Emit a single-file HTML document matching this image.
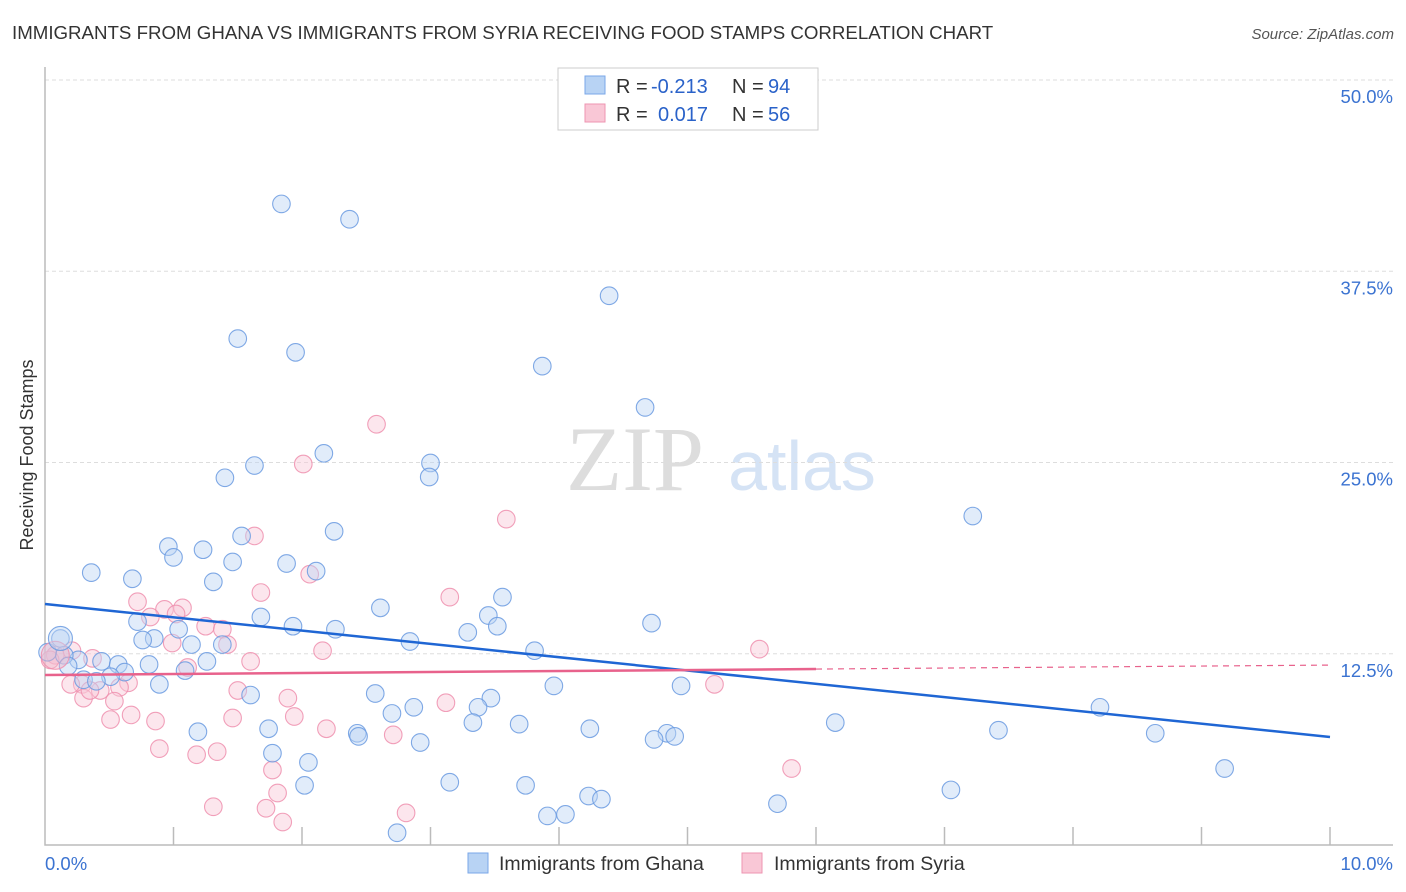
<!DOCTYPE html>
<html><head><meta charset="utf-8">
<style>
body{margin:0;background:#fff;font-family:"Liberation Sans",sans-serif;}
#wrap{position:relative;width:1406px;height:892px;overflow:hidden;}
</style></head>
<body>
<div id="wrap">
<svg id="svg" width="1406" height="892" xmlns="http://www.w3.org/2000/svg">
<text x="12" y="39" font-size="18.7" fill="#333">IMMIGRANTS FROM GHANA VS IMMIGRANTS FROM SYRIA RECEIVING FOOD STAMPS CORRELATION CHART</text>
<text x="1394" y="39" font-size="15" fill="#555" font-style="italic" text-anchor="end">Source: ZipAtlas.com</text>
<text x="33" y="455" font-size="18" fill="#333" text-anchor="middle" transform="rotate(-90 33 455)">Receiving Food Stamps</text>
<g><text x="635" y="490" font-size="92" fill="#ddd" font-family="Liberation Serif,serif" text-anchor="middle">ZIP</text><text x="802" y="490" font-size="70" fill="#d5e3f5" text-anchor="middle">atlas</text></g>
<g id="grid"></g><g id="axes"></g><g id="pts"></g><g id="lines"></g>
<g>
<rect x="558" y="68" width="260" height="62" fill="#fff" stroke="#ccc"/>
<rect x="585" y="76" width="20" height="18" fill="#b8d3f4" stroke="#7aa7e8"/>
<rect x="585" y="104" width="20" height="18" fill="#f9c7d6" stroke="#ee94b1"/>
<text y="93" font-size="20" fill="#333"><tspan x="616">R =</tspan><tspan x="651" fill="#2a62c9">-0.213</tspan><tspan x="732">N =</tspan><tspan x="768" fill="#2a62c9">94</tspan></text>
<text y="121" font-size="20" fill="#333"><tspan x="616">R =</tspan><tspan x="658" fill="#2a62c9">0.017</tspan><tspan x="732">N =</tspan><tspan x="768" fill="#2a62c9">56</tspan></text>
</g>
<g>
<rect x="468" y="853" width="20" height="20" fill="#b8d3f4" stroke="#7aa7e8"/>
<text x="499" y="870" font-size="19.5" fill="#333">Immigrants from Ghana</text>
<rect x="742" y="853" width="20" height="20" fill="#f9c7d6" stroke="#ee94b1"/>
<text x="774" y="870" font-size="19.5" fill="#333">Immigrants from Syria</text>
</g>
</svg>
</div>
<script>
const yTicks=[12.5,25,37.5,50];
const yTickLabels=["12.5%","25.0%","37.5%","50.0%"];
const xTickLabels=["0.0%","10.0%"];
const ghanaX=[1.84,2.37,4.39,1.50,1.95,3.87,4.67,2.17,1.63,3.00,1.40,2.99,7.22,2.25,1.53,0.96,1.23,1.00,1.46,0.36,1.88,2.11,0.68,1.31,3.56,2.61,3.45,1.68,0.72,4.72,1.04,1.93,3.52,2.26,3.29,0.85,0.76,2.84,0.12,1.14,1.38,3.81,0.44,0.57,0.81,1.26,0.26,0.15,0.02,0.18,0.62,1.09,0.51,0.30,0.40,0.89,3.96,4.95,1.60,2.57,3.47,3.37,2.87,2.70,3.33,3.69,6.15,8.21,1.74,2.43,2.44,1.19,4.24,7.42,4.84,4.90,4.74,2.92,8.64,1.77,2.05,9.18,3.15,3.74,2.02,7.05,4.23,4.33,5.70,3.91,4.05,2.74];
const ghanaY=[41.9,40.9,35.9,33.1,32.2,31.3,28.6,25.6,24.8,24.97,24.0,24.05,21.5,20.5,20.2,19.5,19.3,18.8,18.5,17.8,18.4,17.9,17.4,17.2,16.2,15.5,15.0,14.9,14.6,14.5,14.1,14.3,14.3,14.1,13.9,13.5,13.4,13.3,13.5,13.1,13.1,12.7,12.0,11.8,11.8,12.0,12.1,12.4,12.6,11.7,11.3,11.4,11.0,10.8,10.7,10.5,10.4,10.4,9.8,9.9,9.6,9.0,9.0,8.6,8.0,7.9,8.0,9.0,7.6,7.3,7.1,7.4,7.6,7.5,7.3,7.1,6.9,6.7,7.3,6.0,5.4,5.0,4.1,3.9,3.9,3.6,3.2,3.0,2.7,1.9,2.0,0.8];
const syriaX=[2.58,2.01,3.59,1.63,3.15,1.68,0.72,0.93,1.07,0.82,1.02,2.06,1.25,1.38,1.42,0.99,5.56,2.16,1.60,1.11,0.08,0.21,0.04,0.37,0.29,0.43,0.65,0.58,0.54,0.30,0.20,1.50,1.89,3.12,5.21,0.67,0.86,0.51,1.46,1.94,2.19,2.71,0.89,1.18,1.34,1.77,5.81,1.81,1.31,1.72,2.81,1.85,0.35];
const syriaY=[27.5,24.9,21.3,20.2,16.2,16.5,15.9,15.4,15.5,14.9,15.1,17.7,14.3,14.1,13.1,13.2,12.8,12.7,12.0,11.6,12.4,12.7,12.1,12.2,10.5,10.1,10.6,10.3,9.4,9.6,10.5,10.1,9.6,9.3,10.5,8.5,8.1,8.2,8.3,8.4,7.6,7.2,6.3,5.9,6.1,4.9,5.0,3.4,2.5,2.4,2.1,1.5,10.1];
const ghanaBig=[0.12,13.5];
const syriaBig=[0.08,12.4];
const ghanaTrend=[15.75,7.06];
const syriaTrend=[11.11,11.76];
const ns="http://www.w3.org/2000/svg";
const X=v=>45+v/10*1285, Y=v=>845-v/50*765;
function mk(t,a,p){const e=document.createElementNS(ns,t);for(const k in a)e.setAttribute(k,a[k]);p.appendChild(e);return e;}
const grid=document.getElementById('grid'),axes=document.getElementById('axes'),pts=document.getElementById('pts'),lines=document.getElementById('lines');
yTicks.forEach((t,i)=>{
 const l=mk('line',{x1:45,x2:1393,y1:Y(t),y2:Y(t),stroke:'#ddd','stroke-dasharray':'4,3'},grid);
 
 
 const tx=mk('text',{x:1393,y:Y(t)+23,'font-size':18.5,fill:'#3b73d1','text-anchor':'end'},grid);
 tx.textContent=yTickLabels[i];
 
 
});
const ax=mk('path',{d:'M45 67V845H1393',stroke:'#bbb',fill:'none','stroke-width':1.5},axes);


for(let i=1;i<=10;i++){const tk=mk('line',{x1:45+i*128.5,x2:45+i*128.5,y1:827,y2:845,stroke:'#bbb','stroke-width':1.5},axes);
 
 }
[[0,'start'],[10,'end']].forEach((d,i)=>{const t=mk('text',{x:i?1393:45,y:870,'font-size':18.5,fill:'#3b73d1','text-anchor':d[1]},axes);t.textContent=xTickLabels[i];
 
 });
function dot(x,y,r,f,s,name){const c=mk('circle',{cx:X(x),cy:Y(y),r:r,fill:f,'fill-opacity':0.45,stroke:s,'stroke-width':1.1,'stroke-opacity':0.85},pts);
 
 }
syriaX.forEach((x,i)=>dot(x,syriaY[i],8.8,'#f9c7d6','#ee8fae','syria-point'));
ghanaX.forEach((x,i)=>dot(x,ghanaY[i],8.8,'#bcd5f4','#6a9ae0','ghana-point'));
dot(syriaBig[0],syriaBig[1],14,'#f0b4c8','#ee8fae','syria-point-large');
dot(ghanaBig[0],ghanaBig[1],12,'#bcd5f4','#6a9ae0','ghana-point-large');
const bl=mk('line',{x1:X(0),x2:X(10),y1:Y(ghanaTrend[0]),y2:Y(ghanaTrend[1]),stroke:'#1f66d4','stroke-width':2.5},lines);


const sm=syriaTrend[0]+(syriaTrend[1]-syriaTrend[0])*0.6;
const pl=mk('line',{x1:X(0),x2:X(6),y1:Y(syriaTrend[0]),y2:Y(sm),stroke:'#e8628c','stroke-width':2.5},lines);


const pd=mk('line',{x1:X(6),x2:X(10),y1:Y(sm),y2:Y(syriaTrend[1]),stroke:'#e8628c','stroke-width':1.2,'stroke-dasharray':'6,5'},lines);


</script>
</body></html>
